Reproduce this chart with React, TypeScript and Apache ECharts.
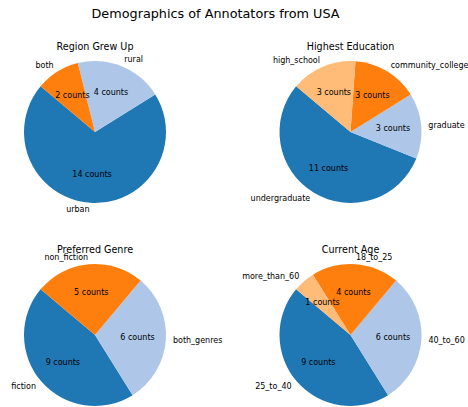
import React, { useEffect, useRef } from "react";
import * as echarts from "echarts";

const mainTitle = "Demographics of Annotators from USA";

const regionTitle = "Region Grew Up";
const regionCategories = ["urban", "rural", "both"];
const regionCounts = [14, 4, 2];

const educationTitle = "Highest Education";
const educationCategories = ["undergraduate", "graduate", "community_college", "high_school"];
const educationCounts = [11, 3, 3, 3];

const genreTitle = "Preferred Genre";
const genreCategories = ["fiction", "both_genres", "non_fiction"];
const genreCounts = [9, 6, 5];

const ageTitle = "Current Age";
const ageCategories = ["25_to_40", "40_to_60", "18_to_25", "more_than_60"];
const ageCounts = [9, 6, 4, 1];

const palette = ["#1f77b4", "#aec7e8", "#ff7f0e", "#ffbb78"];

const FONT = "DejaVu Sans";
const R = 71;

type PieDef = { title: string; cats: string[]; vals: number[]; cx: number; cy: number; ty: number };

const pies: PieDef[] = [
  { title: regionTitle, cats: regionCategories, vals: regionCounts, cx: 95, cy: 132, ty: 46 },
  { title: educationTitle, cats: educationCategories, vals: educationCounts, cx: 350.5, cy: 132, ty: 46 },
  { title: genreTitle, cats: genreCategories, vals: genreCounts, cx: 95, cy: 335, ty: 249 },
  { title: ageTitle, cats: ageCategories, vals: ageCounts, cx: 350.5, cy: 335, ty: 249 },
];

export default function App() {
  const ref = useRef<HTMLDivElement>(null);
  useEffect(() => {
    if (!ref.current) return;
    const chart = echarts.init(ref.current, null, { renderer: "svg" });
    const series: any[] = [];
    const graphics: any[] = [
      {
        type: "text",
        x: 215.5,
        y: 13.5,
        style: { text: mainTitle, font: `12.8px "${FONT}"`, fill: "#000", textAlign: "center", textVerticalAlign: "middle" },
      },
    ];
    pies.forEach((p) => {
      const data = p.cats.map((c, i) => ({ name: c, value: p.vals[i], itemStyle: { color: palette[i] } }));
      series.push({
        type: "pie",
        center: [p.cx, p.cy],
        radius: [0, R],
        startAngle: 140,
        clockwise: false,
        avoidLabelOverlap: false,
        silent: true,
        emphasis: { disabled: true },
        itemStyle: { borderWidth: 0 },
        label: {
          show: true,
          position: "outside",
          formatter: "{b}",
          fontFamily: FONT,
          fontSize: 8,
          color: "#000",
          distanceToLabelLine: 0,
          alignTo: "none",
          overflow: "none",
        },
        labelLine: { show: false, length: R * 0.1, length2: 0 },
        data,
      });
      series.push({
        type: "pie",
        center: [p.cx, p.cy],
        radius: [0, 1.2 * R - 6],
        startAngle: 140,
        clockwise: false,
        avoidLabelOverlap: false,
        silent: true,
        z: 3,
        emphasis: { disabled: true },
        itemStyle: { color: "transparent", borderWidth: 0 },
        label: {
          show: true,
          position: "inside",
          formatter: "{c} counts",
          fontFamily: FONT,
          fontSize: 8,
          color: "#000",
        },
        labelLine: { show: false },
        data: p.cats.map((c, i) => ({ name: c, value: p.vals[i] })),
      });
      graphics.push({
        type: "text",
        x: p.cx,
        y: p.ty,
        style: { text: p.title, font: `9.6px "${FONT}"`, fill: "#000", textAlign: "center", textVerticalAlign: "middle" },
      });
    });
    chart.setOption({
      animation: false,
      backgroundColor: "#fff",
      series,
      graphic: graphics,
    });
    return () => chart.dispose();
  }, []);
  return <div ref={ref} style={{ position: "fixed", left: 0, top: 0, width: 468, height: 407 }} />;
}
